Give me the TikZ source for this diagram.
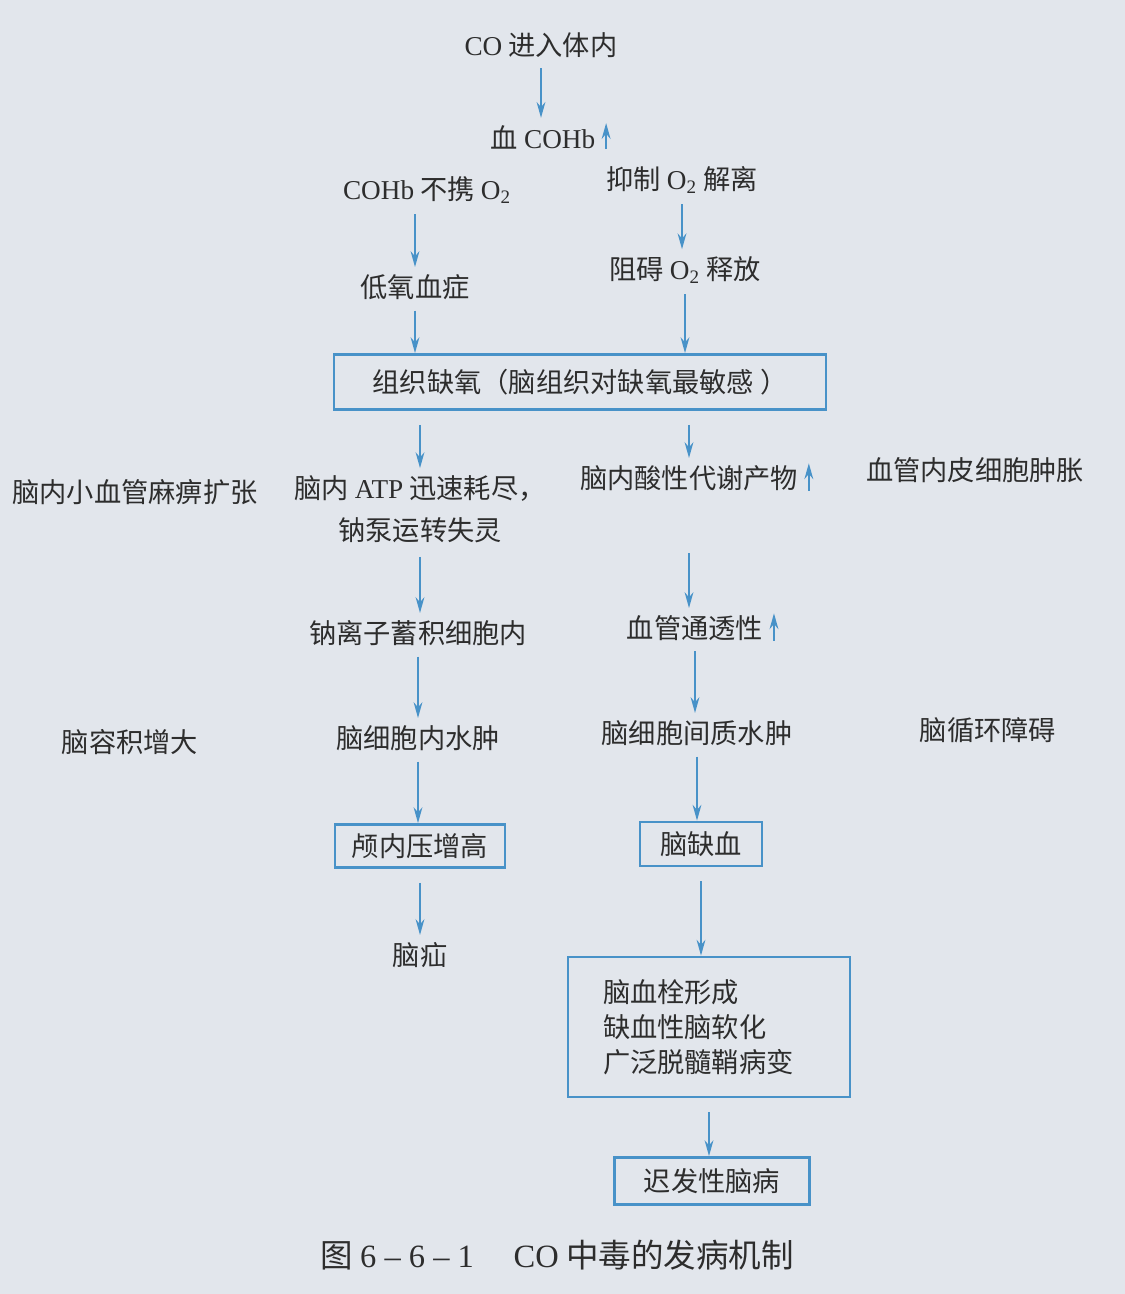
\documentclass[tikz,border=0pt]{standalone}
\usepackage{fontspec}
\setmainfont{Liberation Serif}
\newfontfamily\cjk{Noto Sans CJK SC}
\usetikzlibrary{arrows.meta}
\definecolor{pagebg}{RGB}{226,230,236}
\definecolor{flowblue}{RGB}{72,146,200}
\definecolor{inkgray}{RGB}{45,45,45}
\newcommand{\lat}[1]{{\rmfamily #1}}
\newcommand{\Otwo}{\lat{O\textsubscript{2}}}
\tikzset{
  txt/.style={font=\cjk\fontsize{15.5}{23.8}\selectfont, text=inkgray, inner sep=2pt},
  boxnode/.style={txt, draw=flowblue, line width=1.6pt},
  arr/.style={->, flowblue, line width=1.1pt, shorten <=4pt, shorten >=2pt},
  risearr/.style={->, flowblue, line width=1.3pt},
}
\begin{document}
\begin{tikzpicture}[x=0.02cm,y=-0.02cm,>={Stealth[length=9pt,width=5pt]}]
	\fill[pagebg] (0,0) rectangle (1125,1294);
	\useasboundingbox (0,0) rectangle (1125,1294);
	% upper part
	\node[txt] (co) at (541,45) {\lat{CO} 进入体内};
	\node[txt] (cohb) at (543,137) {血 \lat{COHb}};
	\node[txt] (nocarry) at (427,190) {\lat{COHb} 不携 \Otwo};
	\node[txt] (inhib) at (682,180) {抑制 \Otwo{} 解离};
	\node[txt] (hypox) at (415,287) {低氧血症};
	\node[txt] (block) at (685,270) {阻碍 \Otwo{} 释放};
	\node[boxnode,minimum width=9.84cm,minimum height=1.1cm] (tissue) at (580,382) {组织缺氧（脑组织对缺氧最敏感 ）};
	% middle part
	\node[txt] (dil) at (135,492) {脑内小血管麻痹扩张};
	\node[txt,align=center] (atp) at (420,509) {脑内 \lat{ATP} 迅速耗尽，\\钠泵运转失灵};
	\node[txt] (acid) at (689,478) {脑内酸性代谢产物};
	\node[txt] (endo) at (975,470) {血管内皮细胞肿胀};
	\node[txt] (na) at (418,633) {钠离子蓄积细胞内};
	\node[txt] (perm) at (695,628) {血管通透性};
	\node[txt] (vol) at (130,742) {脑容积增大};
	\node[txt] (icell) at (418,738) {脑细胞内水肿};
	\node[txt] (inter) at (697,733) {脑细胞间质水肿};
	\node[txt] (circ) at (988,730) {脑循环障碍};
	% lower part
	\node[boxnode,minimum width=3.4cm,minimum height=0.86cm] (icp) at (420,846) {颅内压增高};
	\node[boxnode,minimum width=2.44cm,minimum height=0.88cm] (isch) at (701,844) {脑缺血};
	\node[txt] (hern) at (420,955) {脑疝};
	\node[boxnode,align=left,text width=4.24cm,inner xsep=0.7cm,minimum height=2.8cm,font=\cjk\fontsize{15.5}{19.8}\selectfont] (lesion) at (709,1027) {脑血栓形成\\缺血性脑软化\\广泛脱髓鞘病变};
	\node[boxnode,minimum width=3.9cm,minimum height=0.94cm] (late) at (712,1181) {迟发性脑病};
	\node[txt,font=\cjk\fontsize{18.5}{22}\selectfont] (cap) at (557,1255) {图 \lat{6 – 6 – 1}\quad\ \lat{CO} 中毒的发病机制};
	% connectors
	\draw[arr] (co.south) -- (co.south |- cohb.north);
	\draw[arr] (hypox.north |- nocarry.south) -- (hypox.north);
	\draw[arr] (inhib.south) -- (inhib.south |- block.north);
	\draw[arr,shorten >=0pt] (hypox.south) -- (hypox.south |- tissue.north);
	\draw[arr,shorten >=0pt] (block.south) -- (block.south |- tissue.north);
	\draw[arr,shorten <=8pt] (atp.north |- tissue.south) -- (atp.north);
	\draw[arr,shorten <=8pt] (acid.north |- tissue.south) -- (acid.north);
	\draw[arr,shorten <=6pt] (atp.south) -- (atp.south |- na.north);
	\draw[arr,shorten <=4pt] (acid.south |- atp.south) -- (acid.south |- perm.north);
	\draw[arr] (na.south) -- (na.south |- icell.north);
	\draw[arr] (perm.south) -- (perm.south |- inter.north);
	\draw[arr,shorten >=0pt] (icell.south) -- (icell.south |- icp.north);
	\draw[arr,shorten >=0pt] (inter.south) -- (inter.south |- isch.north);
	\draw[arr,shorten <=8pt] (icp.south) -- (icp.south |- hern.north);
	\draw[arr,shorten <=8pt,shorten >=0pt] (isch.south) -- (isch.south |- lesion.north);
	\draw[arr,shorten <=8pt,shorten >=0pt] (lesion.south) -- (lesion.south |- late.north);
	% rising marks
	\foreach \n in {cohb,acid,perm}
		\draw[risearr] ([xshift=4pt,yshift=2pt]\n.south east) -- ([xshift=4pt,yshift=-1pt]\n.north east);
\end{tikzpicture}
\end{document}
